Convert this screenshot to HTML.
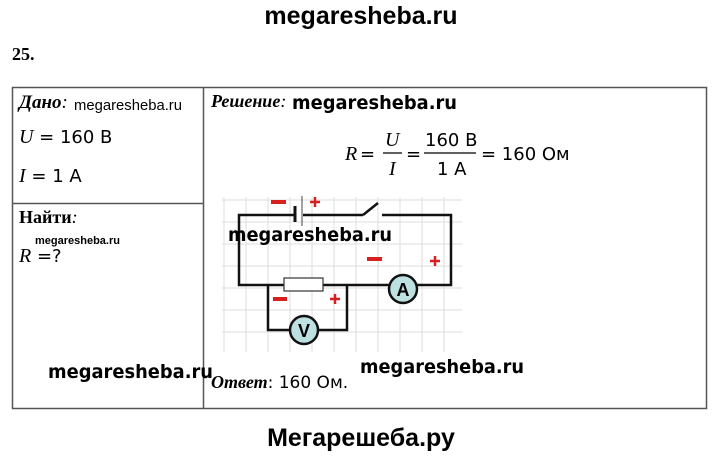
<!DOCTYPE html>
<html><head><meta charset="utf-8"><style>
html,body{margin:0;padding:0;background:#fff;width:720px;height:458px;overflow:hidden}
svg{display:block}
.s{font-family:"Liberation Sans",sans-serif}
.d{font-family:"DejaVu Sans",sans-serif}
.r{font-family:"Liberation Serif",serif}
</style></head><body>
<svg width="720" height="458" viewBox="0 0 720 458" xmlns="http://www.w3.org/2000/svg">
<text x="361" y="24" text-anchor="middle" class="s" font-size="25" font-weight="bold">megaresheba.ru</text>
<text x="12" y="60" class="r" font-size="18" font-weight="bold">25.</text>
<g stroke="#555" stroke-width="1.5" fill="none">
<rect x="12.5" y="87.5" width="694" height="321"/>
<line x1="203.5" y1="87" x2="203.5" y2="408"/>
<line x1="12" y1="203.5" x2="203" y2="203.5"/>
</g>
<text x="19" y="108" class="r" font-size="19" font-style="italic" font-weight="bold">Дано<tspan font-weight="normal">:</tspan></text>
<text x="74" y="110" class="s" font-size="15" textLength="108" lengthAdjust="spacingAndGlyphs">megaresheba.ru</text>
<text x="19" y="143" class="d" font-size="18"><tspan class="r" font-style="italic" font-size="20">U</tspan> = 160 B</text>
<text x="19" y="182" class="d" font-size="18"><tspan class="r" font-style="italic" font-size="20">I</tspan> = 1 A</text>
<text x="19" y="223" class="r" font-size="18" font-weight="bold">Найти<tspan font-style="italic" font-weight="normal">:</tspan></text>
<text x="35" y="244" class="s" font-size="11" font-weight="bold">megaresheba.ru</text>
<text x="19" y="262" class="d" font-size="18"><tspan class="r" font-style="italic" font-size="20">R</tspan> =?</text>
<text x="211" y="107" class="r" font-size="18" font-style="italic" font-weight="bold">Решение<tspan font-weight="normal">:</tspan></text>
<text x="292" y="109" class="d" font-size="19" font-weight="bold" textLength="165" lengthAdjust="spacingAndGlyphs">megaresheba.ru</text>
<g class="d" font-size="18">
<text x="345" y="160" class="r" font-style="italic" font-size="20">R</text>
<text x="360" y="160">=</text>
<text x="385" y="146" class="r" font-style="italic" font-size="20">U</text>
<line x1="383" y1="153" x2="402" y2="153" stroke="#000" stroke-width="1.2"/>
<text x="389" y="175" class="r" font-style="italic" font-size="20">I</text>
<text x="406" y="160">=</text>
<text x="425" y="146">160 B</text>
<line x1="424" y1="153" x2="476" y2="153" stroke="#000" stroke-width="1.2"/>
<text x="437" y="175">1 A</text>
<text x="481" y="160">= 160 Ом</text>
</g>
<g stroke="#ddd" stroke-width="1">
<line x1="224" y1="197" x2="224" y2="352"/><line x1="246" y1="197" x2="246" y2="352"/><line x1="268" y1="197" x2="268" y2="352"/><line x1="290" y1="197" x2="290" y2="352"/><line x1="312" y1="197" x2="312" y2="352"/><line x1="334" y1="197" x2="334" y2="352"/><line x1="356" y1="197" x2="356" y2="352"/><line x1="378" y1="197" x2="378" y2="352"/><line x1="400" y1="197" x2="400" y2="352"/><line x1="422" y1="197" x2="422" y2="352"/><line x1="444" y1="197" x2="444" y2="352"/>
<line x1="222" y1="200" x2="462" y2="200"/><line x1="222" y1="222" x2="462" y2="222"/><line x1="222" y1="244" x2="462" y2="244"/><line x1="222" y1="266" x2="462" y2="266"/><line x1="222" y1="288" x2="462" y2="288"/><line x1="222" y1="310" x2="462" y2="310"/><line x1="222" y1="332" x2="462" y2="332"/>
</g>
<g stroke="#111" stroke-width="2.5" fill="none">
<polyline points="294,215 239,215 239,285 284,285"/>
<line x1="303" y1="215" x2="363" y2="215"/>
<line x1="363" y1="215" x2="378" y2="203"/>
<polyline points="382,215 451,215 451,285 417,285"/>
<line x1="323" y1="285" x2="389" y2="285"/>
<polyline points="268,285 268,330 290,330"/>
<polyline points="347,285 347,330 318,330"/>
</g>
<line x1="295" y1="206" x2="295" y2="222" stroke="#111" stroke-width="3"/>
<line x1="302" y1="196" x2="302" y2="226" stroke="#444" stroke-width="1"/>
<rect x="284" y="278" width="39" height="13" fill="#fff" stroke="#333" stroke-width="1.2"/>
<circle cx="403" cy="289" r="14" fill="#bde0e0" stroke="#111" stroke-width="2.5"/>
<text x="403" y="296" text-anchor="middle" class="s" font-size="18" font-weight="bold">A</text>
<circle cx="304" cy="330" r="14" fill="#bde0e0" stroke="#111" stroke-width="2.5"/>
<text x="304" y="337" text-anchor="middle" class="s" font-size="18" font-weight="bold">V</text>
<g fill="#d82020">
<rect x="271" y="200" width="15" height="4"/>
<rect x="367" y="257" width="15" height="4"/>
<rect x="273" y="297" width="14" height="4"/>
</g>
<g stroke="#d82020" stroke-width="2.5">
<line x1="310" y1="202" x2="320" y2="202"/><line x1="315" y1="197" x2="315" y2="207"/>
<line x1="430" y1="261" x2="440" y2="261"/><line x1="435" y1="256" x2="435" y2="266"/>
<line x1="330" y1="299" x2="340" y2="299"/><line x1="335" y1="294" x2="335" y2="304"/>
</g>
<text x="228" y="241" class="d" font-size="19" font-weight="bold" textLength="164" lengthAdjust="spacingAndGlyphs">megaresheba.ru</text>
<text x="48" y="378" class="d" font-size="19" font-weight="bold" textLength="165" lengthAdjust="spacingAndGlyphs">megaresheba.ru</text>
<text x="360" y="373" class="d" font-size="19" font-weight="bold" textLength="164" lengthAdjust="spacingAndGlyphs">megaresheba.ru</text>
<text x="211" y="388" class="r" font-size="18" font-style="italic" font-weight="bold">Ответ<tspan class="d" font-weight="normal" font-style="normal" font-size="17">: 160 Ом.</tspan></text>
<text x="361" y="446" text-anchor="middle" class="s" font-size="25" font-weight="bold">Мегарешеба.ру</text>
</svg>
</body></html>
